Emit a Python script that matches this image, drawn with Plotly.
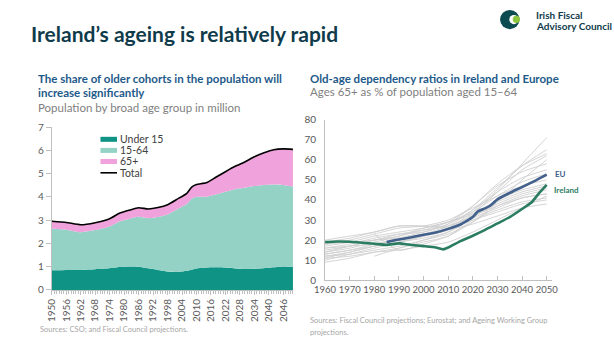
import plotly.graph_objects as go

W, H = 614, 345
def px(x): return x / W
def py(y): return 1 - y / H

# ---------------- Left chart data (million) ----------------
pop_years = [1950, 1956, 1962, 1968, 1974, 1978, 1982, 1986, 1990, 1994, 1998, 2002, 2006,
             2008, 2010, 2014, 2018, 2022, 2026, 2030, 2034, 2038, 2042, 2046, 2050]
under15 = [0.84, 0.86, 0.86, 0.89, 0.93, 0.98, 1.01, 1.00, 0.93, 0.86, 0.79, 0.77, 0.82,
           0.87, 0.92, 0.96, 0.97, 0.96, 0.92, 0.90, 0.91, 0.93, 0.97, 1.01, 1.00]
age15_64 = [1.80, 1.73, 1.62, 1.68, 1.80, 1.96, 2.04, 2.14, 2.15, 2.27, 2.45, 2.70, 2.87,
            3.05, 3.08, 3.04, 3.13, 3.26, 3.41, 3.49, 3.55, 3.58, 3.56, 3.50, 3.44]
age65plus = [0.31, 0.31, 0.32, 0.32, 0.33, 0.35, 0.37, 0.39, 0.40, 0.41, 0.42, 0.43, 0.46,
             0.50, 0.53, 0.60, 0.74, 0.86, 0.98, 1.11, 1.26, 1.38, 1.49, 1.55, 1.60]
total = [round(a + b + c, 3) for a, b, c in zip(under15, age15_64, age65plus)]

# ---------------- Right chart data (%) ----------------
ire_years = [1960, 1965, 1970, 1975, 1980, 1985, 1990, 1995, 2000, 2005, 2008, 2010, 2015,
             2020, 2025, 2030, 2035, 2040, 2044, 2047, 2050]
ireland = [19.0, 19.3, 19.2, 18.7, 18.2, 17.6, 18.4, 17.6, 17.0, 16.3, 15.4, 16.3, 19.5,
           22.2, 25.1, 28.3, 31.5, 35.5, 39.0, 43.5, 47.5]
eu_years = [1985, 1990, 1995, 2000, 2005, 2010, 2015, 2020, 2022, 2025, 2027, 2030, 2035,
            2040, 2045, 2050]
eu = [19.0, 20.3, 21.4, 22.7, 23.8, 25.6, 27.8, 31.5, 34.2, 35.8, 37.1, 40.3, 43.5, 46.4,
      49.4, 52.6]

cty_years = [1960, 1970, 1980, 1990, 2000, 2010, 2020, 2030, 2040, 2050]
countries = [
    [10, 13, 16, 19, 22, 26, 34, 45, 58, 71],
    [12, 14, 17, 20, 23, 27, 35, 46, 57, 65],
    [13, 15, 18, 21, 24, 28, 37, 48, 57, 63],
    [11, 14, 17, 19, 22, 25, 33, 44, 55, 62],
    [15, 17, 20, 22, 25, 29, 37, 47, 54, 58],
    [16, 18, 21, 23, 24, 28, 35, 44, 51, 55],
    [17, 19, 22, 24, 26, 29, 34, 42, 49, 53],
    [18, 20, 23, 26, 27, 30, 36, 42, 47, 50],
    [14, 16, 19, 22, 26, 29, 33, 40, 45, 48],
    [19, 21, 24, 27, 27, 27, 32, 38, 43, 46],
    [12, 13, 15, 17, 20, 23, 29, 37, 42, 45],
    [13, 15, 17, 19, 21, 24, 31, 36, 41, 43],
    [9, 11, 14, 16, 19, 22, 30, 35, 39, 41],
    [20, 22, 24, 27, 27, 26, 30, 34, 38, 40],
    [16, 17, 18, 20, 22, 25, 28, 32, 36, 38],
    [None, None, 23, 15, 18, 22, 29, 39, 50, 60],
    [None, None, 12, 16, 20, 24, 31, 40, 47, 52],
    [18, 19, 20, 23, 25, 27, 32, 37, 41, 43],
    [14, 17, 20, 21, 23, 26, 32, 39, 44, 47],
    [11, 12, 14, 15, 17, 19, 24, 30, 36, 42],
]

TEAL_DARK = "#0e9384"
TEAL_LIGHT = "#93d2c5"
PINK = "#f0a2dc"
BLUE_T = "#1e5a8a"
GREY_T = "#7f7f7f"
TICK = "#595959"
FONT = "Lato"

fig = go.Figure()

# left stacked areas
for name, vals, col in [("Under 15", under15, TEAL_DARK), ("15-64", age15_64, TEAL_LIGHT),
                        ("65+", age65plus, PINK)]:
    fig.add_trace(go.Scatter(x=pop_years, y=vals, name=name, stackgroup="pop", mode="lines",
                             line=dict(width=0, color=col, shape="spline", smoothing=0.5),
                             fillcolor=col, xaxis="x", yaxis="y", showlegend=False))
fig.add_trace(go.Scatter(x=pop_years, y=total, name="Total", mode="lines",
                         line=dict(color="black", width=1.6, shape="spline", smoothing=0.5),
                         xaxis="x", yaxis="y", showlegend=False))

# right chart
for vals in countries:
    fig.add_trace(go.Scatter(x=cty_years, y=vals, mode="lines", showlegend=False,
                             line=dict(color="#cfcfcf", width=0.9, shape="spline", smoothing=0.6),
                             connectgaps=False, xaxis="x2", yaxis="y2", hoverinfo="skip"))
fig.add_trace(go.Scatter(x=eu_years, y=eu, mode="lines", name="EU", showlegend=False,
                         line=dict(color="#41608c", width=2.6, shape="spline", smoothing=0.5),
                         xaxis="x2", yaxis="y2"))
fig.add_trace(go.Scatter(x=ire_years, y=ireland, mode="lines", name="Ireland", showlegend=False,
                         line=dict(color="#2a7d62", width=2.6, shape="spline", smoothing=0.5),
                         xaxis="x2", yaxis="y2"))

axis_common = dict(showgrid=False, zeroline=False, showline=True, linecolor="#bfbfbf",
                   linewidth=1, tickfont=dict(family=FONT, size=10, color=TICK))

fig.update_layout(
    width=W, height=H, margin=dict(l=0, r=0, t=0, b=0),
    paper_bgcolor="white", plot_bgcolor="white", showlegend=False,
    font=dict(family=FONT),
    xaxis=dict(domain=[px(42), px(290)], range=[1950, 2050], tickmode="linear", tick0=1950,
               dtick=6, tickangle=-90, ticks="outside", ticklen=4, tickcolor="#bfbfbf",
               minor=dict(dtick=1, ticks="outside", ticklen=3, tickcolor="#bfbfbf"),
               anchor="y", **axis_common),
    yaxis=dict(domain=[py(294), py(124.7)], range=[0, 7], dtick=1, ticks="outside", ticklen=5,
               tickcolor="#bfbfbf", anchor="x", **axis_common),
    xaxis2=dict(domain=[px(323), px(556)], range=[1960, 2052], tickmode="linear", tick0=1960,
                dtick=10, tickangle=0, ticks="inside", ticklen=4, tickcolor="#bfbfbf", anchor="y2",
                **{**axis_common, "tickfont": dict(family=FONT, size=9.5, color=TICK)}),
    yaxis2=dict(domain=[py(284), py(117)], range=[0, 80], dtick=10, ticks="", anchor="x2",
                ticklabelstandoff=6,
                **{**axis_common, "tickfont": dict(family=FONT, size=10, color=TICK)}),
)

ann = []
def text(x, y, s, size, color, bold=False, xanchor="left", yanchor="middle"):
    ann.append(dict(x=px(x), y=py(y), xref="paper", yref="paper", text=(f"<b>{s}</b>" if bold else s),
                    showarrow=False, xanchor=xanchor, yanchor=yanchor,
                    font=dict(family=FONT, size=size, color=color)))

text(19, 28, "Ireland’s ageing is relatively rapid", 21, "#0f3b4b", bold=True)
text(538, 8, "Irish Fiscal", 10, "#0f3b4b", bold=True)
text(538, 20, "Advisory Council", 10, "#0f3b4b", bold=True)

text(26, 74, "The share of older cohorts in the population will", 11.5, BLUE_T, bold=True)
text(26, 89, "increase significantly", 11.5, BLUE_T, bold=True)
text(26, 104, "Population by broad age group in million", 11.5, GREY_T)

text(305, 74, "Old-age dependency ratios in Ireland and Europe", 11.5, BLUE_T, bold=True)
text(305, 88, "Ages 65+ as % of population aged 15–64", 11.5, GREY_T)

text(28, 335, "Sources: CSO; and Fiscal Council projections.", 7.5, "#a6a6a6")
text(305, 326, "Sources: Fiscal Council projections; Eurostat; and Ageing Working Group", 7.5, "#a6a6a6")
text(305, 338, "projections.", 7.5, "#a6a6a6")

text(557, 174, "EU", 8, "#41608c", bold=True)
text(556, 190, "Ireland", 8, "#2a7d62", bold=True)

# manual legend (left)
leg = [("Under 15", TEAL_DARK, 137.5), ("15-64", TEAL_LIGHT, 149), ("65+", PINK, 160.5)]
shapes = []
for lab, col, yy in leg:
    shapes.append(dict(type="rect", xref="paper", yref="paper", x0=px(92), x1=px(109),
                       y0=py(yy + 2.6), y1=py(yy - 2.6), fillcolor=col, line=dict(width=0)))
    text(110.5, yy, lab, 10.5, "#404040")
shapes.append(dict(type="line", xref="paper", yref="paper", x0=px(92), x1=px(109),
                   y0=py(172.3), y1=py(172.3), line=dict(color="black", width=1.6)))
text(110.5, 172, "Total", 10.5, "#404040")

# logo
shapes.append(dict(type="circle", xref="paper", yref="paper", x0=px(503), x1=px(523),
                   y0=py(23), y1=py(3), fillcolor="#0c4b50", line=dict(width=0)))
shapes.append(dict(type="circle", xref="paper", yref="paper", x0=px(512.5), x1=px(522),
                   y0=py(17.8), y1=py(8.2), fillcolor="white", line=dict(width=0)))
shapes.append(dict(type="circle", xref="paper", yref="paper", x0=px(516), x1=px(523.5),
                   y0=py(16.5), y1=py(9), fillcolor="#8cc63f", line=dict(width=0)))

fig.update_layout(annotations=ann, shapes=shapes)
fig.write_html("out.html")
